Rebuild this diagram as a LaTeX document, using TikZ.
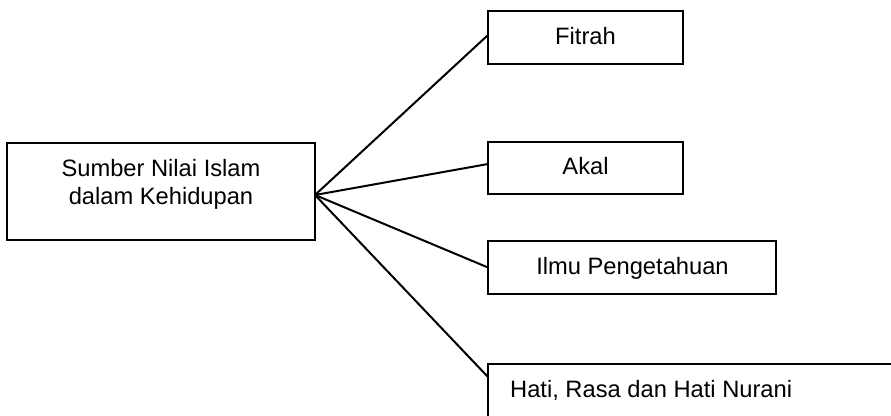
\documentclass[tikz,border=0pt]{standalone}
\usepackage{fontspec}
\setmainfont{Liberation Sans}
\begin{document}
\begin{tikzpicture}[x=1pt,y=1pt,
  box/.style={draw=black, line width=2.1pt, rectangle, inner sep=0pt, outer sep=0pt},
  lbl/.style={inner sep=0pt, anchor=base, font=\fontsize{23.7}{27.5}\selectfont, align=center},
  conn/.style={draw=black, line width=2pt}]
\useasboundingbox (0,0) rectangle (891,-415);
\clip (0,0) rectangle (891,-415);
\fill[white] (0,0) rectangle (891,-415);
% boxes
\node[box, minimum width=308pt, minimum height=97pt] (src) at (161,-191.5) {};
\node[box, minimum width=195pt, minimum height=53pt] (fitrah) at (585.5,-37.5) {};
\node[box, minimum width=195pt, minimum height=52pt] (akal) at (585.5,-168) {};
\node[box, minimum width=288pt, minimum height=53pt] (ilmu) at (632,-267.5) {};
\node[box, anchor=north west, minimum width=500pt, minimum height=100pt] (hati) at (488,-364) {};
% labels
\node[lbl] (srct) at (161,-204) {Sumber Nilai Islam\\dalam Kehidupan};
\node[lbl] (fitraht) at (585.5,-44) {Fitrah};
\node[lbl] (akalt) at (585.5,-174) {Akal};
\node[lbl] (ilmut) at (632.5,-274) {Ilmu Pengetahuan};
\node[lbl, anchor=base west] (hatit) at (510,-397) {Hati, Rasa dan Hati Nurani};
% connectors
\coordinate (hub) at ([yshift=-3.5pt]src.east);
\draw[conn] (hub) -- ([yshift=2.5pt]fitrah.west);
\draw[conn] (hub) -- ([yshift=4pt]akal.west);
\draw[conn] (hub) -- (ilmu.west);
\draw[conn] (hub) -- ([yshift=-13pt]hati.north west);
\end{tikzpicture}
\end{document}
